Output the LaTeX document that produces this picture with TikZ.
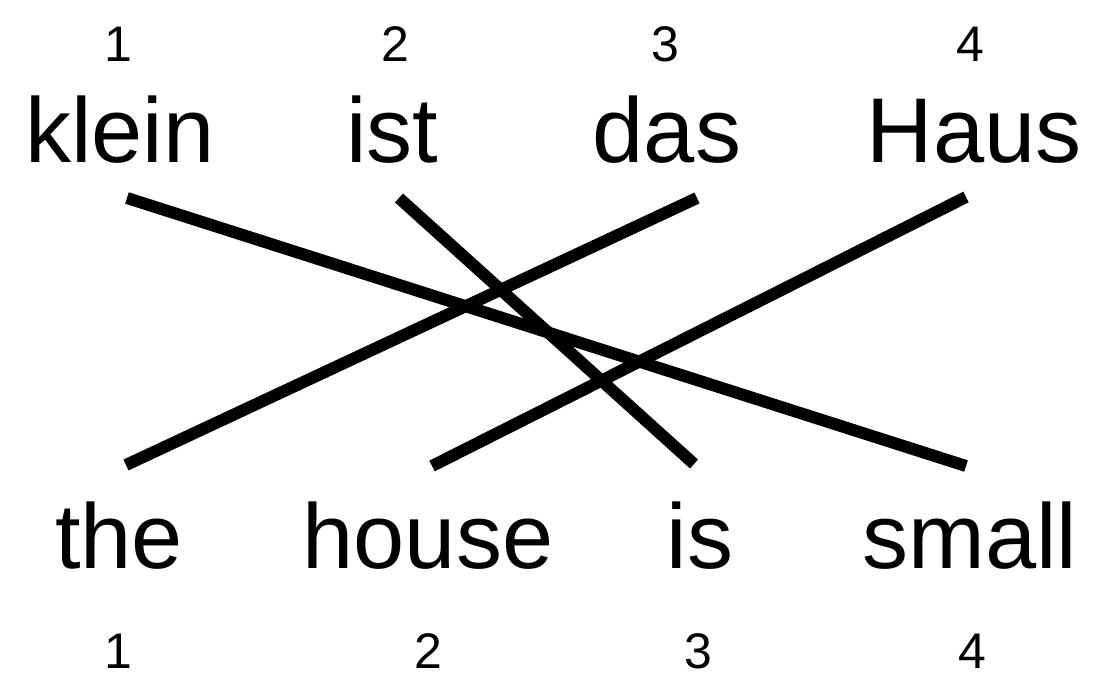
\documentclass[tikz,border=0pt]{standalone}
\usepackage{fontspec}
\setmainfont{Liberation Sans}
\begin{document}
\begin{tikzpicture}[x=0.5pt,y=-0.5pt,
  word/.style={anchor=base,inner sep=0pt,font=\fontsize{46}{55}\selectfont},
  idx/.style={anchor=base,inner sep=0pt,font=\fontsize{25}{30}\selectfont},
  link/.style={line width=6pt,line cap=butt}]
\useasboundingbox (0,0) rectangle (1095,678);
% top indices
\node[idx] (t1) at (118,62) {1};
\node[idx] (t2) at (395,62) {2};
\node[idx] (t3) at (665,62) {3};
\node[idx] (t4) at (970,62) {4};
% top words
\node[word] (klein) at (120,163) {klein};
\node[word] (ist) at (392,163) {ist};
\node[word] (das) at (667,163) {das};
\node[word] (haus) at (974,163) {Haus};
% bottom words
\node[word] (the) at (119,568) {the};
\node[word] (house) at (428,568) {house};
\node[word] (is) at (700,568) {is};
\node[word] (small) at (970,568) {small};
% bottom indices
\node[idx] (b1) at (118,668) {1};
\node[idx] (b2) at (428,668) {2};
\node[idx] (b3) at (698,668) {3};
\node[idx] (b4) at (972,668) {4};
% link end points
\coordinate (kleinE) at (127,198);
\coordinate (istE) at (399,198);
\coordinate (dasE) at (697,198);
\coordinate (hausE) at (966,197);
\coordinate (theE) at (126,465);
\coordinate (houseE) at (432,466);
\coordinate (isE) at (694,464);
\coordinate (smallE) at (966,466);
\draw[link] (kleinE) -- (smallE);
\draw[link] (istE) -- (isE);
\draw[link] (dasE) -- (theE);
\draw[link] (hausE) -- (houseE);
\end{tikzpicture}
\end{document}
